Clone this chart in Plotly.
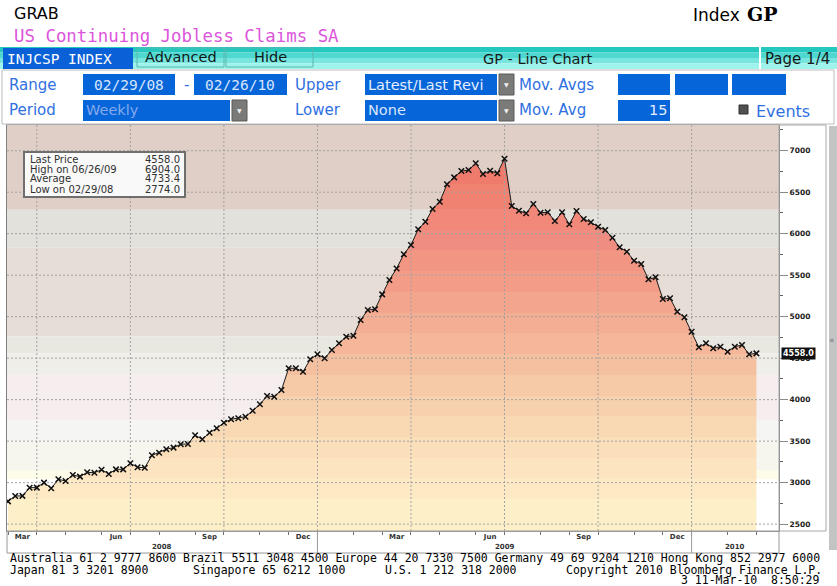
import pandas as pd
import plotly.graph_objects as go

# ---------------- data ----------------
start_date = "2008-02-29"
claims = [
    2774, 2839, 2840, 2939, 2940, 3000, 2932, 3040, 3020, 3092,
    3072, 3124, 3120, 3156, 3104, 3160, 3160, 3233, 3185, 3180,
    3329, 3361, 3402, 3422, 3462, 3466, 3572, 3522, 3602, 3655,
    3722, 3763, 3775, 3795, 3867, 3944, 4044, 4036, 4116, 4378,
    4378, 4337, 4486, 4546, 4498, 4598, 4679, 4759, 4770, 4960,
    5080, 5090, 5269, 5442, 5580, 5752, 5864, 6053, 6144, 6297,
    6386, 6595, 6679, 6755, 6767, 6848, 6719, 6759, 6728, 6904,
    6334, 6277, 6246, 6358, 6253, 6258, 6153, 6258, 6113, 6273,
    6177, 6137, 6084, 6044, 5952, 5836, 5783, 5675, 5635, 5450,
    5474, 5213, 5221, 5060, 4992, 4819, 4631, 4679, 4619, 4638,
    4578, 4638, 4659, 4546, 4558,
]
dates = pd.date_range(start_date, periods=len(claims), freq="7D")

y_ticks = [2500, 3000, 3500, 4000, 4500, 5000, 5500, 6000, 6500, 7000]
quarter_month_names = {3: "Mar", 6: "Jun", 9: "Sep", 12: "Dec"}
stat_labels = ["Last Price", "High on 06/26/09", "Average", "Low on 02/29/08"]
stat_values = ["4558.0", "6904.0", "4733.4", "2774.0"]
last_label = "4558.0"

X_RANGE = ["2008-02-28", "2010-03-20"]
Y_RANGE = [2417, 7310]

# background bands (value ranges) and fill gradient steps
bg_bands = [
    (6290, 7400, "#dfcfc7"), (5830, 6290, "#e2e1db"), (4760, 5830, "#e6ddd6"),
    (4560, 4760, "#e8e7e0"), (4300, 4560, "#efeee8"), (3750, 4300, "#f5edee"),
    (3500, 3750, "#f5f5f4"), (3150, 3500, "#f6f5ee"), (3040, 3150, "#fdfce8"),
    (2300, 3040, "#ffffff"),
]
fill_edges = [2417, 2800, 3050, 3300, 3550, 3800, 4050, 4300, 4550, 4800,
              5050, 5300, 5550, 5800, 6050, 6300, 6600, 7310]
fill_colors = ["#fdf0c9", "#fde9c4", "#fce4c0", "#fadfba", "#f8d9b4", "#f7d1ad",
               "#f6c9a7", "#f5c0a0", "#f5b69a", "#f4ae93", "#f3a58d", "#f39d88",
               "#f29683", "#ee8d80", "#f2887a", "#f08272", "#ee7b6c"]

# ---------------- geometry helpers ----------------
W, H = 837, 586
L, R, T, B = 7, 779, 125, 531
SANS = "DejaVu Sans"
MONO = "DejaVu Sans Mono"


def px(x):
    return (x - L) / (R - L)


def py(y):
    return (B - y) / (B - T)


shapes = []
annotations = []


def rect(x0, y0, x1, y1, fill, line=None, lw=1, layer="above"):
    shapes.append(dict(type="rect", xref="paper", yref="paper",
                       x0=px(x0), x1=px(x1), y0=py(y1), y1=py(y0),
                       fillcolor=fill, layer=layer,
                       line=dict(color=line if line else fill, width=lw if line else 0)))


def vline(x, y0, y1, color, w=1):
    shapes.append(dict(type="line", xref="paper", yref="paper",
                       x0=px(x), x1=px(x), y0=py(y0), y1=py(y1),
                       line=dict(color=color, width=w)))


def ann(x, y, text, size, color="#000000", family=SANS, xanchor="left", weight="normal"):
    annotations.append(dict(xref="paper", yref="paper", x=px(x), y=py(y), text=text,
                            showarrow=False, xanchor=xanchor, yanchor="middle",
                            borderpad=0,
                            font=dict(size=size, color=color, family=family, weight=weight)))


# ---------------- derived axis positions ----------------
s = pd.Series(dates)
month_ends = list(s.groupby([s.dt.year, s.dt.month]).max())
quarter_ends = [d for d in month_ends if d.month in quarter_month_names]
label_pos, label_txt = [], []
for i, d in enumerate(month_ends):
    if d.month in quarter_month_names and i > 0:
        prev = month_ends[i - 1]
        label_pos.append(prev + (d - prev) / 2)
        label_txt.append(quarter_month_names[d.month])
year_ends = [d for d in month_ends if d.month == 12]
bounds = [pd.Timestamp(X_RANGE[0])] + year_ends + [pd.Timestamp(X_RANGE[1])]
year_centers = [bounds[i] + (bounds[i + 1] - bounds[i]) / 2 for i in range(len(bounds) - 1)]
year_labels = [str(bounds[1].year)] + [str(b.year + 1) for b in bounds[1:-1]]

# ---------------- traces ----------------
cs = []
span = fill_edges[-1] - fill_edges[0]
for i, c in enumerate(fill_colors):
    a = (fill_edges[i] - fill_edges[0]) / span
    b = (fill_edges[i + 1] - fill_edges[0]) / span
    cs.append([a, c])
    cs.append([b, c])

fig = go.Figure()
fig.add_trace(go.Scatter(
    x=dates, y=claims, mode="none", fill="tozeroy",
    fillgradient=dict(type="vertical", colorscale=cs,
                      start=fill_edges[0], stop=fill_edges[-1]),
    hoverinfo="skip", showlegend=False))

gx, gy = [], []
for v in y_ticks:
    gx += [X_RANGE[0], X_RANGE[1], None]
    gy += [v, v, None]
for d in quarter_ends:
    ds = d.strftime("%Y-%m-%d")
    gx += [ds, ds, None]
    gy += [Y_RANGE[0], Y_RANGE[1], None]
fig.add_trace(go.Scatter(x=gx, y=gy, mode="lines", hoverinfo="skip", showlegend=False,
                         line=dict(color="#a2a2a2", width=1, dash="2px,2px")))

fig.add_trace(go.Scatter(
    x=dates, y=claims, mode="lines+markers", showlegend=False,
    line=dict(color="#1a1a1a", width=1),
    marker=dict(symbol="x-thin", size=5.5, color="#111111",
                line=dict(color="#111111", width=1.5))))
fig.add_trace(go.Scatter(x=[], y=[], xaxis="x2", showlegend=False))

# background bands
for lo, hi, c in bg_bands:
    shapes.append(dict(type="rect", xref="paper", yref="y", x0=0, x1=1, y0=lo, y1=hi,
                       fillcolor=c, line=dict(width=0), layer="below"))

# ---------------- header ----------------
ann(13, 14, "GRAB", 16)
ann(13, 36, "US Continuing Jobless Claims SA", 17.4, "#dc55dc", MONO)
ann(692, 15, "Index", 17)
ann(746, 14, "GP", 19, weight="bold", family="DejaVu Serif")

# toolbar
tb = ["#25c8bf", "#4fd8d0", "#78e6df", "#9ff3ed"]
for i, c in enumerate(tb):
    rect(0, 47 + i * 5.5, 837, 47 + (i + 1) * 5.5, c)
rect(3, 48, 133, 69, "#0a60d6")
ann(6, 59, "INJCSP INDEX", 14.5, "#ffffff", MONO)
rect(137, 48, 224, 67, "rgba(0,0,0,0)", "#58b8b0", 1)
rect(226, 48, 313, 67, "rgba(0,0,0,0)", "#58b8b0", 1)
ann(181, 57, "Advanced", 14.5, "#101818", xanchor="center")
ann(270, 57, "Hide", 14.5, "#101818", xanchor="center")
ann(537, 59, "GP - Line Chart", 14.5, "#181818", xanchor="center")
vline(760, 47, 69, "#ffffff", 2)
ann(764, 59, "Page 1/4", 15, "#181818")

# panel
rect(2, 70, 834, 124, "#ffffff", "#bcbcbc", 1)
BLUE_T = "#2f70e2"
BOX = "#0665d8"
r2, r3 = 84.5, 110.5
ann(8, r2, "Range", 15, BLUE_T)
ann(8, r3, "Period", 15, BLUE_T)
rect(83, 74, 175, 95, BOX)
ann(129, r2, "02/29/08", 14.5, "#d8e6ff", MONO, "center")
ann(186, r2, "-", 15, BLUE_T, xanchor="center")
rect(194, 74, 287, 95, BOX)
ann(240, r2, "02/26/10", 14.5, "#d8e6ff", MONO, "center")
ann(294, r2, "Upper", 15, BLUE_T)
ann(294, r3, "Lower", 15, BLUE_T)
rect(365, 74, 497, 95, BOX)
ann(367, r2, "Latest/Last Revi", 14.5, "#e6efff", SANS)
rect(365, 100, 497, 121, BOX)
ann(367, r3, "None", 14.5, "#d8e6ff", SANS)
rect(83, 100, 230, 121, BOX)
ann(85, r3, "Weekly", 14.5, "#86a9ee", SANS)
for x0, y0 in [(499, 74), (499, 100), (232, 100)]:
    rect(x0, y0, x0 + 15, y0 + 21, "#7a7a78", "#5a5a58", 1)
    ann(x0 + 7.5, y0 + 10.5, "▼", 6, "#f0f0f0", xanchor="center")
ann(518, r2, "Mov. Avgs", 15, BLUE_T)
ann(518, r3, "Mov. Avg", 15, BLUE_T)
for x0, x1 in [(618, 670), (675, 728), (732, 786)]:
    rect(x0, 74, x1, 95, BOX)
rect(618, 100, 670, 121, BOX)
ann(668, r3, "15", 14.5, "#e6efff", SANS, "right")
rect(739, 105, 748, 114, "#505050", "#303030", 1)
ann(755, r3 + 1, "Events", 16, BLUE_T)

# ---------------- chart furniture ----------------
rect(779, 125, 826, 531, "rgba(0,0,0,0)", "#a8a8a8", 1)
rect(829, 126, 837, 550, "#c4c4c4")
ann(832, 340, "«", 9, "#707070", xanchor="center")
rect(7, 531, 779, 553, "rgba(0,0,0,0)", "#9a9a9a", 1)
for d in year_ends:
    shapes.append(dict(type="line", xref="x", yref="paper", x0=d, x1=d,
                       y0=py(531), y1=py(553), line=dict(color="#9a9a9a", width=1)))
for c, t in zip(year_centers, year_labels):
    annotations.append(dict(xref="x", yref="paper", x=c, y=py(547), text=t,
                            showarrow=False, xanchor="center", yanchor="middle",
                            font=dict(size=7, color="#333333", family=SANS, weight="bold")))

# stats box
rect(24, 152, 185, 197, "#f9f9f9", "#6e6e6e", 2)
for i, (lab, val) in enumerate(zip(stat_labels, stat_values)):
    yy = 159 + i * 10.0
    ann(29, yy, lab, 10, "#303030", SANS)
    ann(181, yy, val, 10, "#303030", SANS, "right")

# last price tag
annotations.append(dict(xref="paper", yref="y", x=px(781), y=claims[-1], text=last_label,
                        showarrow=False, xanchor="left", yanchor="middle",
                        bgcolor="#111111", borderpad=1,
                        font=dict(size=8, color="#ffffff", family=SANS, weight="bold")))

# footer
NB = "\u00a0"
FS = 11.5
ann(9, 558, "Australia 61 2 9777 8600 Brazil 5511 3048 4500 Europe 44 20 7330 7500 "
            "Germany 49 69 9204 1210 Hong Kong 852 2977 6000", FS, "#000000", MONO)
ann(9, 569.5, "Japan 81 3 3201 8900", FS, "#000000", MONO)
ann(192, 569.5, "Singapore 65 6212 1000", FS, "#000000", MONO)
ann(384, 569.5, "U.S. 1 212 318 2000", FS, "#000000", MONO)
ann(565, 569.5, "Copyright 2010 Bloomberg Finance L.P.", FS, "#000000", MONO)
ann(821, 579.5, "3 11-Mar-10" + NB + NB + "8:50:29", FS, "#000000", MONO, "right")

# ---------------- layout ----------------
fig.update_layout(
    width=W, height=H,
    margin=dict(l=L, r=W - R, t=T, b=H - B, pad=0),
    paper_bgcolor="#ffffff", plot_bgcolor="#ffffff",
    showlegend=False,
    shapes=shapes, annotations=annotations,
    xaxis=dict(type="date", range=X_RANGE, showgrid=False, zeroline=False,
               tickvals=quarter_ends, showticklabels=False,
               ticks="outside", ticklen=3, tickcolor="#707070",
               minor=dict(tickvals=month_ends, ticks="outside", ticklen=3, tickcolor="#707070",
                          showgrid=False),
               showline=True, linecolor="#9a9a9a", mirror=True),
    xaxis2=dict(type="date", range=X_RANGE, overlaying="x", anchor="y", side="bottom",
                showgrid=False, zeroline=False, ticks="", tickvals=label_pos,
                ticktext=label_txt, showline=False,
                tickfont=dict(size=7, color="#333333", family=SANS, weight="bold")),
    yaxis=dict(range=Y_RANGE, side="right", showgrid=False, zeroline=False,
               tickvals=y_ticks, ticks="outside", ticklen=8, tickcolor="#8a8a8a",
               tickfont=dict(size=7.5, color="#202020", family=SANS, weight="bold"),
               minor=dict(dtick=250, tick0=2500, ticks="outside", ticklen=3,
                          tickcolor="#606060", showgrid=False),
               showline=True, linecolor="#808080", mirror=True),
)

fig.write_html("out.html", config={"displayModeBar": False},
               post_script="document.body.style.margin='0';document.body.style.padding='0';")
